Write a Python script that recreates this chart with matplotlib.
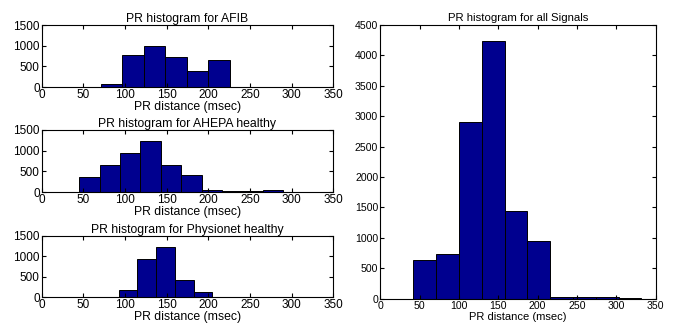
import numpy as np
import matplotlib
matplotlib.use("Agg")
import matplotlib.pyplot as plt

# bin edges (msec) and counts
afib_edges = [71, 96.8, 122.6, 148.4, 174.2, 200, 225.8, 251.6, 277.4, 303.2, 329]
afib_counts = [80, 770, 995, 722, 400, 658, 5, 5, 5, 5]

ahepa_edges = [45, 69.5, 94, 118.5, 143, 167.5, 192, 216.5, 241, 265.5, 290]
ahepa_counts = [353, 658, 939, 1236, 658, 417, 50, 25, 20, 40]

physio_edges = [70, 92.5, 115, 137.5, 160, 182.5, 205, 227.5, 250, 272.5, 295]
physio_counts = [5, 180, 930, 1232, 424, 114, 2, 2, 3, 5]

all_edges = [42, 71, 100, 129, 158, 187, 216, 245, 274, 303, 332]
all_counts = [630, 730, 2910, 4240, 1440, 950, 35, 25, 25, 10]

titles = ["PR histogram for AFIB", "PR histogram for AHEPA healthy",
          "PR histogram for Physionet healthy"]
xlab = "PR distance (msec)"

bar_color = "#00008f"
plt.rcParams['font.family'] = ['Liberation Sans', 'DejaVu Sans']


def draw_hist(ax, edges, counts, ymax, yticks, fs):
    edges = np.array(edges)
    ax.bar(edges[:-1], counts, width=np.diff(edges), align='edge',
           color=bar_color, edgecolor='black', linewidth=0.7)
    ax.set_xlim(0, 350)
    ax.set_ylim(0, ymax)
    ax.set_xticks(np.arange(0, 351, 50))
    ax.set_yticks(yticks)
    ax.tick_params(direction='in', top=True, right=True, length=3, pad=1.5,
                   labelsize=fs)
    for s in ax.spines.values():
        s.set_linewidth(0.8)


fig = plt.figure(figsize=(6.73, 3.25), dpi=100)

left_pos = [[0.062, 0.732, 0.433, 0.191],
            [0.062, 0.409, 0.433, 0.191],
            [0.062, 0.086, 0.433, 0.188]]
data = [(afib_edges, afib_counts), (ahepa_edges, ahepa_counts),
        (physio_edges, physio_counts)]

for pos, (e, c), t in zip(left_pos, data, titles):
    ax = fig.add_axes(pos)
    draw_hist(ax, e, c, 1500, [0, 500, 1000, 1500], 8.5)
    ax.set_title(t, fontsize=8.8, pad=2)
    ax.set_xlabel(xlab, fontsize=8.8, labelpad=0)

ax = fig.add_axes([0.565, 0.0806, 0.409, 0.843])
draw_hist(ax, all_edges, all_counts, 4500, np.arange(0, 4501, 500), 7.6)
ax.set_title("PR histogram for all Signals", fontsize=8.2, pad=3)
ax.set_xlabel(xlab, fontsize=8, labelpad=1)

fig.savefig("out.png", dpi=100)
